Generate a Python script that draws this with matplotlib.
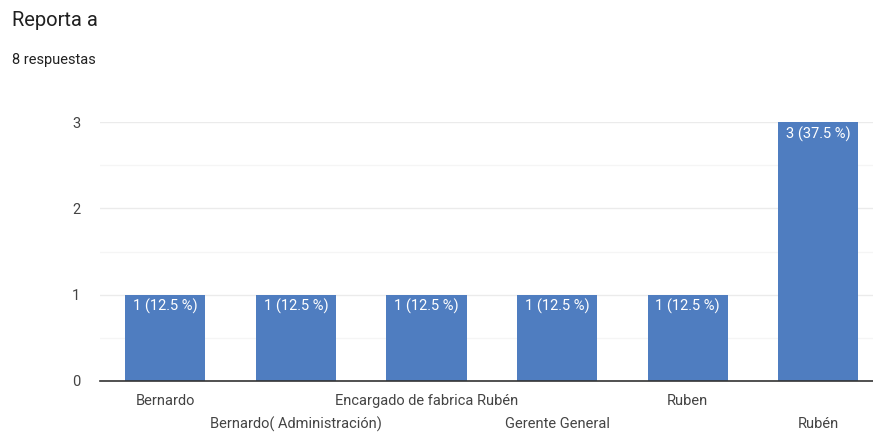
import matplotlib.pyplot as plt
import numpy as np

# data
categories = ['Bernardo', 'Bernardo( Administración)', 'Encargado de fabrica Rubén',
              'Gerente General', 'Ruben', 'Rubén']
counts = [1, 1, 1, 1, 1, 3]
total = 8

bar_color = '#4f7dc0'
text_color = '#444444'

plt.rcParams['font.family'] = ['Roboto', 'DejaVu Sans']

fig = plt.figure(figsize=(8.73, 4.34), dpi=100)
ax = fig.add_axes([100/873, 53/434, 773/873, 259/434])

x = np.arange(len(categories))
bars = ax.bar(x, counts, width=0.613, color=bar_color, zorder=3)

# value labels inside the bars
for xi, c in zip(x, counts):
    ax.text(xi, c - 0.05, '%d (%.1f %%)' % (c, c / total * 100), ha='center', va='top',
            color='white', fontsize=10.5, zorder=4)

ax.set_xlim(-0.5, -0.5 + 773/130.6)
ax.set_ylim(0, 3)
ax.set_yticks([0, 1, 2, 3])
ax.set_yticks([0.5, 1.5, 2.5], minor=True)
ax.grid(axis='y', which='major', color='#ebebeb', lw=1, zorder=0)
ax.grid(axis='y', which='minor', color='#f5f5f5', lw=1, zorder=0)
ax.tick_params(axis='y', which='both', length=0, pad=14, labelsize=10.5, labelcolor=text_color)
ax.tick_params(axis='x', length=0)
ax.set_xticks([])
for s in ['top', 'right', 'left']:
    ax.spines[s].set_visible(False)
ax.spines['bottom'].set_color('#333333')
ax.spines['bottom'].set_linewidth(1.2)
ax.spines['bottom'].set_zorder(5)

# category labels on alternating rows
for i, name in enumerate(categories):
    yoff = -20 if i % 2 == 0 else -43
    ax.annotate(name, (i, 0), xytext=(0, yoff), textcoords='offset pixels',
                ha='center', va='center', fontsize=10.5, color=text_color, annotation_clip=False)

fig.text(12/873, 1 - 20/434, 'Reporta a', fontsize=14.5, color='#212121', va='center', ha='left')
fig.text(12/873, 1 - 60/434, '8 respuestas', fontsize=10.5, color='#212121', va='center', ha='left')

fig.savefig('out.png', dpi=100)
